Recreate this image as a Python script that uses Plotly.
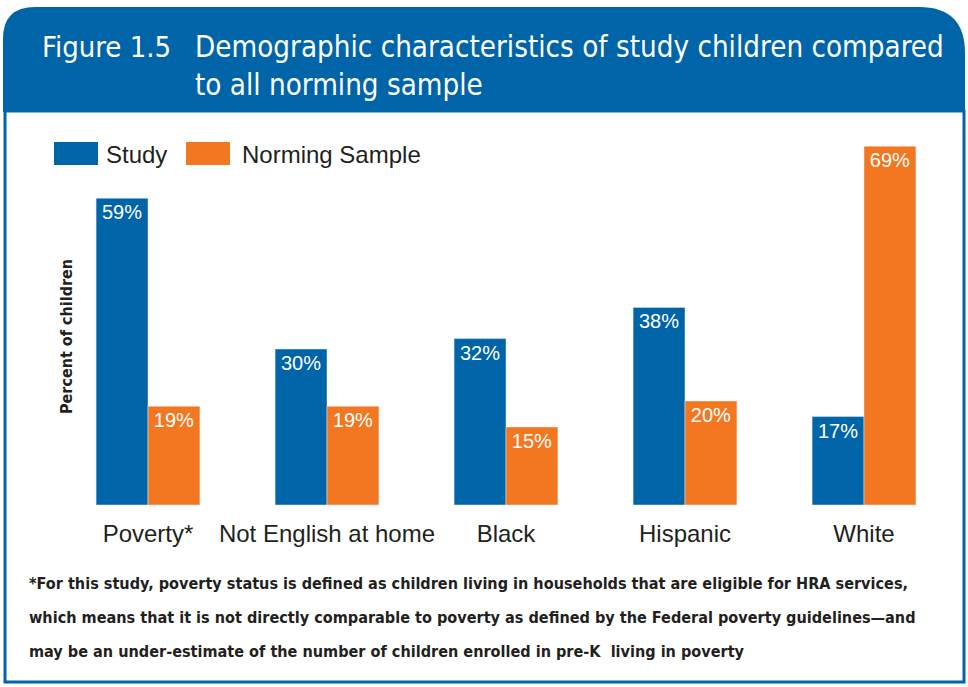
import plotly.graph_objects as go

W, H = 968, 687

categories = ["Poverty*", "Not English at home", "Black", "Hispanic", "White"]
study = [59, 30, 32, 38, 17]
norming = [19, 19, 15, 20, 69]
series_names = ["Study", "Norming Sample"]

title_num = "Figure 1.5"
title_text = "Demographic characteristics of study children compared<br>to all norming sample"
y_title = "Percent of children"
footnote_lines = [
    "*For this study, poverty status is defined as children living in households that are eligible for HRA services,",
    "which means that it is not directly comparable to poverty as defined by the Federal poverty guidelines\u2014and",
    "may be an under-estimate of the number of children enrolled in pre-K  living in poverty",
]

BLUE = "#0064A8"
ORANGE = "#F37721"
DARK = "#231F20"
NARROW = "Liberation Sans Narrow, DejaVu Sans Condensed, Arial Narrow, sans-serif"
REG = "Liberation Sans, Arial, sans-serif"


def px(x):
    return x / W


def py(y):
    return 1 - y / H


fig = go.Figure()
for vals, name, col in [(study, series_names[0], BLUE), (norming, series_names[1], ORANGE)]:
    fig.add_trace(go.Bar(
        x=categories, y=vals, name=name, marker_color=col,
        texttemplate="%{y}%", textposition="inside", insidetextanchor="end",
        textangle=0, constraintext="none",
        textfont=dict(color="white", size=20, family=REG),
    ))

# header path (rounded top corners)
hx0, hx1, hy0, hy1 = 3, 965, 7, 112
rl, rr = 32, 46
path = (f"M {px(hx0)},{py(hy1)} L {px(hx0)},{py(hy0 + rl)} "
        f"Q {px(hx0)},{py(hy0)} {px(hx0 + rl)},{py(hy0)} "
        f"L {px(hx1 - rr)},{py(hy0)} Q {px(hx1)},{py(hy0)} {px(hx1)},{py(hy0 + rr)} "
        f"L {px(hx1)},{py(hy1)} Z")

shapes = [
    dict(type="path", path=path, xref="paper", yref="paper",
         fillcolor=BLUE, line=dict(width=0), layer="below"),
    dict(type="rect", xref="paper", yref="paper",
         x0=px(5), x1=px(964), y0=py(682), y1=py(111),
         line=dict(color=BLUE, width=3), fillcolor="rgba(0,0,0,0)", layer="below"),
    # legend swatches
    dict(type="rect", xref="paper", yref="paper", x0=px(54), x1=px(98), y0=py(165), y1=py(142),
         fillcolor=BLUE, line=dict(width=0)),
    dict(type="rect", xref="paper", yref="paper", x0=px(186), x1=px(230), y0=py(165), y1=py(142),
         fillcolor=ORANGE, line=dict(width=0)),
]

annotations = [
    dict(text=title_num, x=px(40), y=py(47), xref="paper", yref="paper",
         xanchor="left", yanchor="middle", showarrow=False,
         font=dict(family=NARROW, size=29, color="white")),
    dict(text=title_text, x=px(193), y=py(66), xref="paper", yref="paper",
         xanchor="left", yanchor="middle", showarrow=False, align="left",
         font=dict(family=NARROW, size=29.3, color="white")),
    dict(text=series_names[0], x=px(104), y=py(154), xref="paper", yref="paper",
         xanchor="left", yanchor="middle", showarrow=False,
         font=dict(family=REG, size=24, color=DARK)),
    dict(text=series_names[1], x=px(240), y=py(154), xref="paper", yref="paper",
         xanchor="left", yanchor="middle", showarrow=False,
         font=dict(family=REG, size=24, color=DARK)),
    dict(text="<b>" + y_title + "</b>", x=px(66), y=py(337), xref="paper", yref="paper",
         xanchor="center", yanchor="middle", showarrow=False, textangle=-90,
         font=dict(family=NARROW, size=16, color=DARK)),
]
for line, yy in zip(footnote_lines, [583, 617, 651]):
    annotations.append(dict(text="<b>" + line + "</b>", x=px(27), y=py(yy),
                            xref="paper", yref="paper", xanchor="left", yanchor="middle",
                            showarrow=False, align="left",
                            font=dict(family=NARROW, size=16.1, color=DARK)))

fig.update_layout(
    width=W, height=H,
    margin=dict(l=0, r=0, t=0, b=0),
    paper_bgcolor="white", plot_bgcolor="white",
    showlegend=False,
    barmode="group", bargap=0.42, bargroupgap=0,
    shapes=shapes, annotations=annotations,
    xaxis=dict(domain=[px(58.5), px(953.5)], showgrid=False, showline=False, zeroline=False,
               ticks="", tickfont=dict(family=REG, size=24, color=DARK),
               ticklabelstandoff=12),
    yaxis=dict(domain=[py(505), py(141)], range=[0, 70], showgrid=False, zeroline=False,
               showticklabels=False, showline=False),
)

fig.write_html("out.html", config={"displayModeBar": False},
               post_script="document.body.style.margin='0px';")
